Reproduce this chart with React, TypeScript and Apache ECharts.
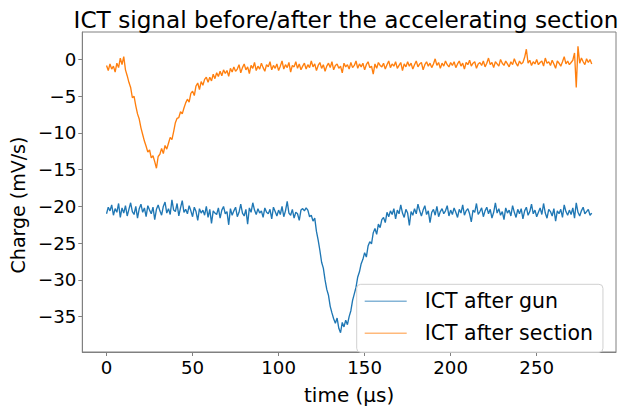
import React, { useEffect, useRef } from "react";
import * as echarts from "echarts";

const TITLE = "ICT signal before/after the accelerating section";
const X_NAME = "time (µs)";
const Y_NAME = "Charge (mV/s)";
const SERIES_NAMES = ["ICT after gun", "ICT after section"];
const X_TICKS = [0, 50, 100, 150, 200, 250];
const Y_TICKS = [-35, -30, -25, -20, -15, -10, -5, 0];
const T_START = 0;
const T_STEP = 1;

// ICT after gun (blue), one sample per µs from t = 0
const GUN = [
  -21.0, -20.1, -20.6, -19.8, -21.2, -20.3, -20.8, -19.6, -21.5, -20.2,
  -20.9, -19.9, -21.3, -20.4, -19.5, -20.7, -21.1, -20.0, -21.6, -20.3,
  -19.7, -20.8, -20.2, -21.4, -19.9, -20.5, -21.0, -20.1, -21.8, -20.4,
  -19.8, -20.6, -21.2, -20.0, -19.4, -20.9, -20.3, -21.1, -19.1, -20.5,
  -20.7, -19.6, -21.3, -20.2, -19.2, -20.8, -20.4, -21.0, -19.9, -20.6,
  -21.4, -20.1, -20.7, -21.9, -20.3, -20.9, -20.5, -21.2, -20.0, -21.5,
  -20.4, -22.3, -20.6, -20.9, -21.1, -20.2, -21.6, -20.5, -20.0, -21.0,
  -20.7, -22.5, -20.3, -21.2, -20.6, -20.1, -21.4, -20.8, -19.7, -20.9,
  -21.3, -20.4, -22.4, -20.2, -20.8, -19.5, -20.5, -21.1, -20.3, -20.9,
  -20.6, -21.5, -20.2, -20.8, -21.0, -20.4, -21.7, -20.1, -20.7, -21.3,
  -20.5, -21.1, -20.0, -21.4, -20.6, -19.3, -20.9, -21.2, -20.4, -21.6,
  -20.8, -21.0, -21.9, -20.5, -20.3, -20.6, -20.2, -20.5, -21.4, -21.2,
  -22.0, -21.6, -23.4, -24.6, -26.0, -27.6, -28.4, -30.0, -31.3, -32.1,
  -33.6, -34.5, -35.3, -35.9, -35.2, -36.6, -37.2, -35.8, -36.4, -35.5,
  -36.1, -35.0, -34.2, -32.8, -31.9, -31.0, -29.6, -28.9, -27.8, -27.2,
  -26.3, -26.9, -25.4, -24.8, -25.1, -23.6, -23.0, -23.8, -22.4, -22.9,
  -21.8, -21.5, -22.2, -20.8, -21.4, -20.6, -21.1, -20.3, -21.7, -20.5,
  -21.0, -19.8, -20.9, -21.5, -20.4, -20.9, -22.6, -20.7, -21.2, -20.3,
  -21.0, -19.7, -20.6, -21.3, -20.5, -19.9, -21.1, -20.6, -22.2, -20.8,
  -20.4, -21.2, -20.0, -21.4, -20.7, -20.3, -21.0, -20.6, -19.9, -21.3,
  -20.5, -21.1, -20.2, -20.8, -21.5, -20.4, -20.9, -19.8, -21.2, -20.6,
  -20.3, -21.0, -22.1, -20.5, -20.8, -19.6, -21.1, -20.7, -20.2, -21.4,
  -20.6, -20.1, -21.0, -20.4, -21.6, -20.8, -19.5, -20.9, -20.3, -21.2,
  -20.7, -21.8, -20.2, -20.9, -20.5, -21.3, -19.9, -20.8, -21.5, -20.4,
  -21.0, -20.3, -21.7, -20.6, -20.1, -21.2, -20.7, -19.7, -21.0, -20.5,
  -21.4, -20.8, -20.2, -21.1, -19.6, -20.9, -21.6, -20.4, -20.7, -21.3,
  -20.3, -22.0, -20.6, -21.0, -20.4, -21.5, -19.8, -20.7, -21.2, -20.5,
  -21.1, -20.2, -21.6, -19.5, -20.8, -21.3, -20.6, -20.1, -21.0, -20.7,
  -20.4, -21.2, -20.9,
];

// ICT after section (orange), one sample per µs from t = 0
const SECTION = [
  -0.8, -1.5, -0.6, -1.3, -0.9, -1.7, -0.5, -1.1, 0.2, -0.7,
  0.4, -1.4, -2.2, -3.1, -3.8, -5.2, -5.0, -6.3, -7.4, -8.1,
  -9.3, -10.2, -11.1, -11.8, -12.6, -12.3, -13.4, -13.1, -13.9, -14.8,
  -13.2, -12.9, -12.1, -12.8, -11.7, -12.2, -11.4, -10.6, -10.9, -9.8,
  -8.6, -8.0, -7.9, -7.1, -7.4, -6.6, -5.9, -5.4, -5.8, -4.6,
  -4.3, -4.9, -3.6, -3.2, -4.1, -3.0, -3.5, -2.7, -2.4, -3.1,
  -2.4, -2.9, -2.0, -2.6, -1.8, -2.3, -1.6, -2.2, -1.4, -1.9,
  -1.5, -2.3, -1.2, -1.7, -1.0, -1.6, -1.3, -0.7, -1.8, -1.1,
  -0.6, -1.4, -1.0, -1.9, -0.8, -1.2, -0.4, -1.5, -0.9, -1.3,
  -0.5, -1.1, -1.6, -0.7, -1.0, -0.3, -1.4, -0.8, -1.2, -0.6,
  -1.5, -0.9, -0.2, -1.3, -0.7, -1.1, -0.4, -1.7, -0.8, -1.0,
  -0.3, -1.2, -0.6, -1.4, -0.9, -0.5, -1.3, -0.7, -1.1, -0.2,
  -1.0, -0.6, -1.5, -0.8, -0.4, -1.2, -0.7, -1.6, -0.9, -0.5,
  -1.1, -0.3, -1.4, -0.8, -0.6, -1.2, -0.9, -1.8, -0.5, -1.0,
  -0.7, -1.3, -0.4, -1.1, -0.8, -0.2, -1.2, -0.6, -1.0, -0.5,
  -1.4, -0.7, -0.3, -1.1, -0.9, -2.0, -0.6, -1.2, -0.4, -0.8,
  -1.0, -0.5, -1.3, -0.7, -0.2, -1.1, -0.6, -0.9, -0.3, -1.2,
  -0.8, -0.4, -1.5, -0.6, -1.0, -0.3, -0.9, -0.5, -1.3, -0.7,
  -0.2, -1.0, -0.6, -0.4, -1.4, -0.7, -0.3, -0.9, -0.5, -1.1,
  -0.6, 0.1, -0.8, -0.4, -1.2, -0.5, -0.9, -0.2, -0.7, -1.0,
  -0.4, -0.8, -0.3, -1.1, -0.6, -0.2, -0.9, -0.5, -1.3, -0.4,
  -0.7, -0.1, -0.9, -0.5, -0.3, -1.2, -0.6, -0.4, -0.8, -0.2,
  -1.0, -0.5, 0.2, -0.7, -0.4, -1.1, -0.3, -0.6, -0.9, 0.0,
  -0.5, -0.8, -0.2, -0.6, -1.0, -0.3, -0.7, 0.1, -0.5, -0.9,
  -0.2, -0.6, -0.4, 0.3, 1.4, -0.5, -0.1, -0.8, -0.3, -0.6,
  0.0, -0.7, -0.4, -0.2, -0.9, 0.2, -0.5, -0.3, -0.8, -0.1,
  -0.6, -1.2, -0.2, -0.5, -0.9, -0.3, 0.4, -0.6, -0.2, -0.7,
  -0.4, -0.1, 0.9, -3.8, 1.8, -0.5, 0.2, -0.3, -0.7, 0.1,
  -0.4, 0.0, -0.6,
];

const COLORS = ["#1f77b4", "#ff7f0e"];
const FONT = "DejaVu Sans";

function toPairs(values: number[]) {
  return values.map((v, i) => [T_START + i * T_STEP, v]);
}

export default function App() {
  const ref = useRef<HTMLDivElement>(null);
  useEffect(() => {
    if (!ref.current) return;
    const chart = echarts.init(ref.current, undefined, { renderer: "svg" });
    const axisLine = { show: true, onZero: false, lineStyle: { color: "#808080", width: 1 } };
    const tickStyle = { show: true, length: 4, inside: false, lineStyle: { color: "#808080" } };
    chart.setOption({
      animation: false,
      backgroundColor: "#ffffff",
      title: {
        text: TITLE,
        left: 341,
        textAlign: "center",
        top: 3,
        textStyle: { fontFamily: FONT, fontSize: 23.2, fontWeight: "normal", color: "#000" },
      },
      grid: {
        left: 81,
        top: 32,
        right: 14,
        bottom: 41.5,
        show: true,
        borderColor: "#808080",
        borderWidth: 1,
        containLabel: false,
      },
      legend: {
        orient: "vertical",
        left: 356.7,
        top: 284.3,
        data: SERIES_NAMES,
        icon: "rect",
        itemWidth: 42,
        itemHeight: 1.6,
        itemGap: 8,
        padding: [5, 10, 7, 8],
        backgroundColor: "rgba(255,255,255,0.8)",
        borderColor: "#d0d0d0",
        borderWidth: 1,
        borderRadius: 4,
        itemStyle: { opacity: 0.55 },
        textStyle: {
          fontFamily: FONT,
          fontSize: 20.5,
          color: "#000",
          lineHeight: 24,
          padding: [0, 0, 0, 13],
        },
      },
      xAxis: {
        type: "value",
        min: -14.1,
        max: 296.1,
        name: X_NAME,
        nameLocation: "middle",
        nameGap: 33,
        nameTextStyle: { fontFamily: FONT, fontSize: 20, color: "#000" },
        axisLine,
        splitLine: { show: false },
        axisTick: { ...tickStyle, customValues: X_TICKS },
        axisLabel: {
          customValues: X_TICKS,
          margin: 6,
          fontFamily: FONT,
          fontSize: 18.2,
          color: "#000",
        },
      },
      yAxis: {
        type: "value",
        min: -39.82,
        max: 3.75,
        name: Y_NAME,
        nameLocation: "middle",
        nameGap: 36,
        nameRotate: 90,
        nameTextStyle: { fontFamily: FONT, fontSize: 19, color: "#000", padding: [0, 26, 0, 0] },
        axisLine,
        splitLine: { show: false },
        axisTick: { ...tickStyle, customValues: Y_TICKS },
        axisLabel: {
          customValues: Y_TICKS,
          margin: 6,
          fontFamily: FONT,
          fontSize: 18.2,
          color: "#000",
          formatter: (v: number) => (v < 0 ? "\u2212" + Math.abs(v) : String(v)),
        },
      },
      series: [
        {
          name: SERIES_NAMES[0],
          type: "line",
          data: toPairs(GUN),
          showSymbol: false,
          color: COLORS[0],
          lineStyle: { width: 1.35, color: COLORS[0] },
        },
        {
          name: SERIES_NAMES[1],
          type: "line",
          data: toPairs(SECTION),
          showSymbol: false,
          color: COLORS[1],
          lineStyle: { width: 1.35, color: COLORS[1] },
        },
      ],
    });
    return () => chart.dispose();
  }, []);
  return (
    <div
      ref={ref}
      style={{ position: "fixed", left: 0, top: 0, width: 630, height: 410 }}
    />
  );
}
